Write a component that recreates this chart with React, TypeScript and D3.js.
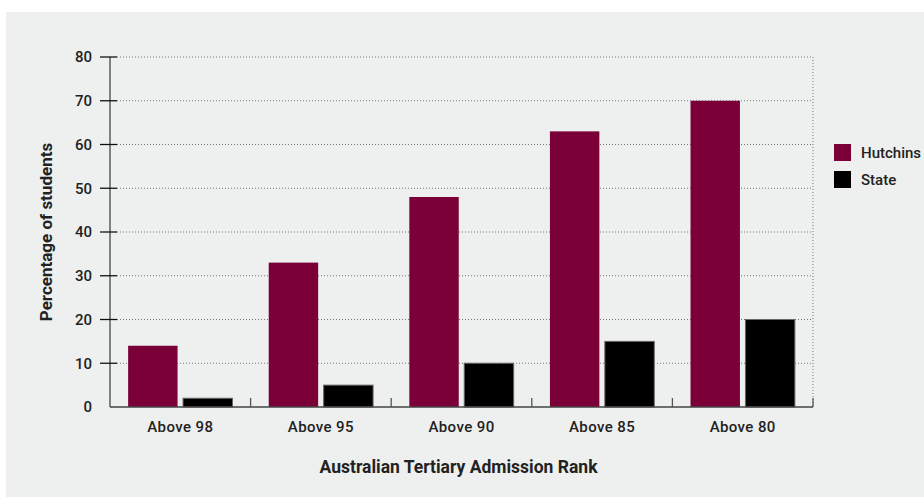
import * as d3 from "d3";
import React from "react";

const categories = ["Above 98", "Above 95", "Above 90", "Above 85", "Above 80"];
const hutchins = [14, 33, 48, 63, 70];
const state = [2, 5, 10, 15, 20];
const yTicks = [0, 10, 20, 30, 40, 50, 60, 70, 80];
const seriesNames = ["Hutchins", "State"];

const W = 924;
const H = 497;
const left = 110;
const right = 813;
const top = 57;
const bottom = 407;
const font = "Roboto, 'DejaVu Sans', sans-serif";

const App = () => {
  const x = d3.scaleBand().domain(categories).range([left, right]).paddingInner(0).paddingOuter(0);
  const inner = d3
    .scaleBand()
    .domain(seriesNames)
    .range([0, x.bandwidth()])
    .paddingInner(0.1)
    .paddingOuter(0.33);
  const y = d3.scaleLinear().domain([0, 80]).range([bottom, top]);
  const colors = ["#7b0037", "#000000"];
  const data = [hutchins, state];

  return (
    <svg width={W} height={H} style={{ position: "absolute", left: 0, top: 0 }}>
      <rect x={6} y={12} width={W - 6} height={H - 12} fill="#eef0f0" />

      {/* grid */}
      {yTicks.filter((t) => t > 0).map((t) => (
        <line
          key={t}
          x1={left + 7}
          x2={right}
          y1={y(t)}
          y2={y(t)}
          stroke="#777"
          strokeWidth={1}
          strokeDasharray="1 2"
        />
      ))}
      <line x1={right} x2={right} y1={top} y2={bottom} stroke="#777" strokeDasharray="1 2" />

      {/* bars */}
      {categories.map((c, i) => (
        <g key={c}>
          {data.map((series, s) => (
            <rect
              key={s}
              x={(x(c) as number) + (inner(seriesNames[s]) as number)}
              y={y(series[i])}
              width={inner.bandwidth()}
              height={bottom - y(series[i])}
              fill={colors[s]}
              stroke={s === 1 ? "#666" : "none"}
              strokeWidth={1}
            />
          ))}
        </g>
      ))}

      {/* y axis */}
      <line x1={left} x2={left} y1={top} y2={bottom} stroke="#444" strokeWidth={1.3} />
      {yTicks.map((t) => (
        <g key={t}>
          {t > 0 ? (
            <line x1={left - 10} x2={left + 7} y1={y(t)} y2={y(t)} stroke="#111" strokeWidth={1.3} />
          ) : null}
          <text
            x={92}
            y={y(t) + 5.3}
            textAnchor="end"
            fontFamily={font}
            fontWeight={500}
            fontSize={15}
            fill="#222"
          >
            {t}
          </text>
        </g>
      ))}

      {/* x axis */}
      <line x1={left} x2={right} y1={bottom} y2={bottom} stroke="#444" strokeWidth={1.3} />
      {categories.map((c) => (
        <line
          key={"t" + c}
          x1={(x(c) as number) + x.bandwidth()}
          x2={(x(c) as number) + x.bandwidth()}
          y1={bottom}
          y2={bottom - 9}
          stroke="#555"
          strokeWidth={1.3}
        />
      ))}
      {categories.map((c) => (
        <text
          key={"l" + c}
          x={(x(c) as number) + x.bandwidth() / 2}
          y={431.5}
          textAnchor="middle"
          fontFamily={font}
          fontWeight={500}
          fontSize={15}
          letterSpacing={0.4}
          fill="#222"
        >
          {c}
        </text>
      ))}

      <text
        x={(left + right) / 2 - 3}
        y={473.3}
        textAnchor="middle"
        fontFamily={font}
        fontWeight={700}
        fontSize={17.5}
        fill="#222"
      >
        Australian Tertiary Admission Rank
      </text>
      <text
        transform={`translate(52, ${(top + bottom) / 2}) rotate(-90)`}
        textAnchor="middle"
        fontFamily={font}
        fontWeight={700}
        fontSize={17}
        fill="#222"
      >
        Percentage of students
      </text>

      {/* legend */}
      {seriesNames.map((n, i) => (
        <g key={n} transform={`translate(834, ${144 + i * 27})`}>
          <rect width={17} height={17} fill={colors[i]} />
          <text x={27} y={14} fontFamily={font} fontWeight={500} fontSize={15} fill="#222">
            {n}
          </text>
        </g>
      ))}
    </svg>
  );
};

export default App;
